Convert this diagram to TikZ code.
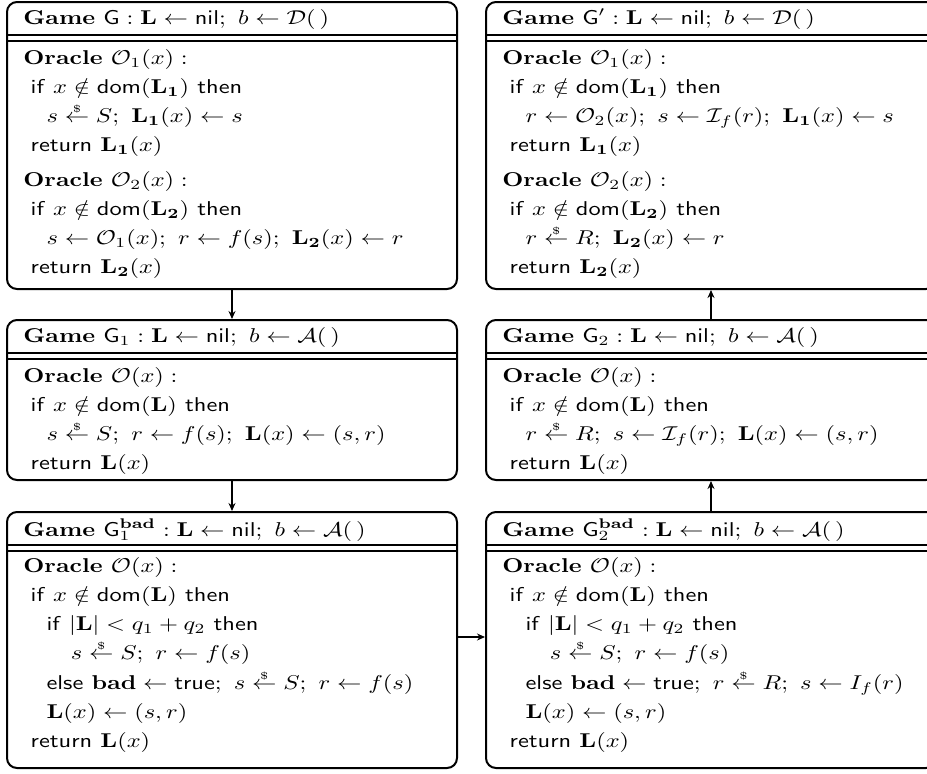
\documentclass[tikz,border=0pt]{standalone}
\usepackage{amsmath,amssymb}
\usepackage{graphicx}
\usetikzlibrary{positioning,arrows.meta}
\newcommand{\kw}[1]{\textsf{#1}}
\newcommand{\smp}{\mathrel{\overset{\raisebox{-2pt}{$\scriptscriptstyle\$$}}{\leftarrow}}}
\newcommand{\wideto}[1]{\scalebox{1.22}[1]{#1}}
\renewcommand{\arraystretch}{1.22}

\begin{document}
\begin{tikzpicture}[x=0.5pt, y=-0.5pt,
  game/.style={draw, line width=1pt, rounded corners=5pt, minimum width=225pt, inner sep=0pt},
  title/.style={anchor=base west, inner sep=0pt},
  body/.style={anchor=base west, inner sep=0pt},
  arr/.style={-{Stealth[length=4pt,width=3.5pt]}, line width=0.7pt}
]
  \useasboundingbox (0,0) rectangle (927,773);

  % Game boxes
  \node[game, minimum height=143.5pt] (gG) at (232,145.5) {};
  \node[game, minimum height=143.5pt] (gGp) at (711,145.5) {};
  \node[game, minimum height=80pt] (gG1) at (232,400) {};
  \node[game, minimum height=80pt] (gG2) at (711,400) {};
  \node[game, minimum height=128pt] (gG1b) at (232,640) {};
  \node[game, minimum height=128pt] (gG2b) at (711,640) {};

  % double rule under each header
  \foreach \g in {gG,gGp,gG1,gG2,gG1b,gG2b} {
    \draw[line width=1pt] ([yshift=-17pt]\g.north west) -- ([yshift=-17pt]\g.north east);
    \draw[line width=1pt] ([yshift=-20pt]\g.north west) -- ([yshift=-20pt]\g.north east);
  }

  % Headers
  \node[title] (tG) at ([xshift=8.5pt,yshift=-11.5pt]gG.north west)
    {\wideto{\textbf{Game} $\mathsf{G} : \mathbf{L} \leftarrow \mathsf{nil};\ b \leftarrow \mathcal{D}(\,)$}};
  \node[title] (tGp) at ([xshift=8.5pt,yshift=-11.5pt]gGp.north west)
    {\wideto{\textbf{Game} $\mathsf{G}' : \mathbf{L} \leftarrow \mathsf{nil};\ b \leftarrow \mathcal{D}(\,)$}};
  \node[title] (tG1) at ([xshift=8.5pt,yshift=-11.5pt]gG1.north west)
    {\wideto{\textbf{Game} $\mathsf{G}_1 : \mathbf{L} \leftarrow \mathsf{nil};\ b \leftarrow \mathcal{A}(\,)$}};
  \node[title] (tG2) at ([xshift=8.5pt,yshift=-11.5pt]gG2.north west)
    {\wideto{\textbf{Game} $\mathsf{G}_2 : \mathbf{L} \leftarrow \mathsf{nil};\ b \leftarrow \mathcal{A}(\,)$}};
  \node[title] (tG1b) at ([xshift=8.5pt,yshift=-12.5pt]gG1b.north west)
    {\wideto{\textbf{Game} $\mathsf{G}_1^{\mathbf{bad}} : \mathbf{L} \leftarrow \mathsf{nil};\ b \leftarrow \mathcal{A}(\,)$}};
  \node[title] (tG2b) at ([xshift=8.5pt,yshift=-12.5pt]gG2b.north west)
    {\wideto{\textbf{Game} $\mathsf{G}_2^{\mathbf{bad}} : \mathbf{L} \leftarrow \mathsf{nil};\ b \leftarrow \mathcal{A}(\,)$}};

  % Oracles
  \node[body] (bG) at ([xshift=8.5pt,yshift=-31.5pt]gG.north west) {\wideto{%
    \begin{tabular}[t]{@{}l@{}}
    \textbf{Oracle} $\mathcal{O}_1(x) :$\\
    \hspace*{3pt}\kw{if} $x \notin \mathsf{dom}(\mathbf{L_1})$ \kw{then}\\
    \hspace*{9.5pt}$s \smp S;\ \mathbf{L_1}(x) \leftarrow s$\\
    \hspace*{3pt}\kw{return} $\mathbf{L_1}(x)$\\[2.5pt]
    \textbf{Oracle} $\mathcal{O}_2(x) :$\\
    \hspace*{3pt}\kw{if} $x \notin \mathsf{dom}(\mathbf{L_2})$ \kw{then}\\
    \hspace*{9.5pt}$s \leftarrow \mathcal{O}_1(x);\ r \leftarrow f(s);\ \mathbf{L_2}(x) \leftarrow r$\\
    \hspace*{3pt}\kw{return} $\mathbf{L_2}(x)$
    \end{tabular}}};
  \node[body] (bGp) at ([xshift=8.5pt,yshift=-31.5pt]gGp.north west) {\wideto{%
    \begin{tabular}[t]{@{}l@{}}
    \textbf{Oracle} $\mathcal{O}_1(x) :$\\
    \hspace*{3pt}\kw{if} $x \notin \mathsf{dom}(\mathbf{L_1})$ \kw{then}\\
    \hspace*{9.5pt}$r \leftarrow \mathcal{O}_2(x);\ s \leftarrow \mathcal{I}_f(r);\ \mathbf{L_1}(x) \leftarrow s$\\
    \hspace*{3pt}\kw{return} $\mathbf{L_1}(x)$\\[2.5pt]
    \textbf{Oracle} $\mathcal{O}_2(x) :$\\
    \hspace*{3pt}\kw{if} $x \notin \mathsf{dom}(\mathbf{L_2})$ \kw{then}\\
    \hspace*{9.5pt}$r \smp R;\ \mathbf{L_2}(x) \leftarrow r$\\
    \hspace*{3pt}\kw{return} $\mathbf{L_2}(x)$
    \end{tabular}}};
  \node[body] (bG1) at ([xshift=8.5pt,yshift=-31.5pt]gG1.north west) {\wideto{%
    \begin{tabular}[t]{@{}l@{}}
    \textbf{Oracle} $\mathcal{O}(x) :$\\
    \hspace*{3pt}\kw{if} $x \notin \mathsf{dom}(\mathbf{L})$ \kw{then}\\
    \hspace*{9.5pt}$s \smp S;\ r \leftarrow f(s);\ \mathbf{L}(x) \leftarrow (s,r)$\\
    \hspace*{3pt}\kw{return} $\mathbf{L}(x)$
    \end{tabular}}};
  \node[body] (bG2) at ([xshift=8.5pt,yshift=-31.5pt]gG2.north west) {\wideto{%
    \begin{tabular}[t]{@{}l@{}}
    \textbf{Oracle} $\mathcal{O}(x) :$\\
    \hspace*{3pt}\kw{if} $x \notin \mathsf{dom}(\mathbf{L})$ \kw{then}\\
    \hspace*{9.5pt}$r \smp R;\ s \leftarrow \mathcal{I}_f(r);\ \mathbf{L}(x) \leftarrow (s,r)$\\
    \hspace*{3pt}\kw{return} $\mathbf{L}(x)$
    \end{tabular}}};
  \node[body] (bG1b) at ([xshift=8.5pt,yshift=-30.5pt]gG1b.north west) {\wideto{%
    \begin{tabular}[t]{@{}l@{}}
    \textbf{Oracle} $\mathcal{O}(x) :$\\
    \hspace*{3pt}\kw{if} $x \notin \mathsf{dom}(\mathbf{L})$ \kw{then}\\
    \hspace*{9.5pt}\kw{if} $|\mathbf{L}| < q_1 + q_2$ \kw{then}\\
    \hspace*{19.5pt}$s \smp S;\ r \leftarrow f(s)$\\
    \hspace*{9.5pt}\kw{else} $\mathbf{bad} \leftarrow \mathsf{true};\ s \smp S;\ r \leftarrow f(s)$\\
    \hspace*{9.5pt}$\mathbf{L}(x) \leftarrow (s,r)$\\
    \hspace*{3pt}\kw{return} $\mathbf{L}(x)$
    \end{tabular}}};
  \node[body] (bG2b) at ([xshift=8.5pt,yshift=-30.5pt]gG2b.north west) {\wideto{%
    \begin{tabular}[t]{@{}l@{}}
    \textbf{Oracle} $\mathcal{O}(x) :$\\
    \hspace*{3pt}\kw{if} $x \notin \mathsf{dom}(\mathbf{L})$ \kw{then}\\
    \hspace*{9.5pt}\kw{if} $|\mathbf{L}| < q_1 + q_2$ \kw{then}\\
    \hspace*{19.5pt}$s \smp S;\ r \leftarrow f(s)$\\
    \hspace*{9.5pt}\kw{else} $\mathbf{bad} \leftarrow \mathsf{true};\ r \smp R;\ s \leftarrow I_f(r)$\\
    \hspace*{9.5pt}$\mathbf{L}(x) \leftarrow (s,r)$\\
    \hspace*{3pt}\kw{return} $\mathbf{L}(x)$
    \end{tabular}}};

  % Hops
  \draw[arr] (gG) -- (gG1);
  \draw[arr] (gG1) -- (gG1b);
  \draw[arr] ([yshift=1.5pt]gG1b.east) -- ([yshift=1.5pt]gG2b.west);
  \draw[arr] (gG2b) -- (gG2);
  \draw[arr] (gG2) -- (gGp);
\end{tikzpicture}
\end{document}
